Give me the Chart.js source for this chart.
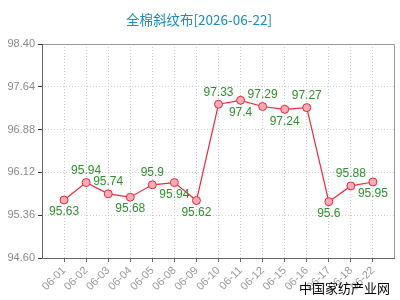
<!DOCTYPE html>
<html>
<head>
<meta charset="utf-8">
<script src="https://cdn.jsdelivr.net/npm/chart.js@4/dist/chart.umd.min.js"></script>
<style>
  html, body { margin: 0; padding: 0; background: #fff; }
  #wrap { width: 400px; height: 300px; }
</style>
</head>
<body>
<div id="wrap"><canvas id="chart"></canvas></div>
<script>
'use strict'

const titleText = "全棉斜纹布[2026-06-22]";
const dates = ["06-01", "06-02", "06-03", "06-04", "06-05", "06-08", "06-09", "06-10",
    "06-11", "06-12", "06-15", "06-16", "06-17", "06-18", "06-22"];
const prices = [95.63, 95.94, 95.74, 95.68, 95.9, 95.94, 95.62, 97.33,
    97.4, 97.29, 97.24, 97.27, 95.6, 95.88, 95.95];
const yTicks = [94.60, 95.36, 96.12, 96.88, 97.64, 98.40];
// 1 = label above the point, -1 = below
const labelSide = [-1, 1, 1, -1, 1, -1, -1, 1, -1, 1, -1, 1, -1, 1, -1];

const extras = {
    id: "extras",
    afterDatasetsDraw(chart) {
        const ctx = chart.ctx;
        const meta = chart.getDatasetMeta(0);
        ctx.save();
        ctx.font = "12px 'Liberation Sans', Arial, sans-serif";
        ctx.fillStyle = "#2f8f2f";
        ctx.textAlign = "center";
        ctx.textBaseline = "middle";
        meta.data.forEach((pt, i) => {
            ctx.fillText(String(prices[i]), pt.x, pt.y - labelSide[i] * 12);
        });
        ctx.restore();
    },
    afterDraw(chart) {
        const ctx = chart.ctx;
        const a = chart.chartArea;
        ctx.save();
        // frame
        ctx.strokeStyle = "#999";
        ctx.lineWidth = 1;
        ctx.beginPath();
        ctx.moveTo(a.left, a.top + 0.5);
        ctx.lineTo(a.right - 0.5, a.top + 0.5);
        ctx.lineTo(a.right - 0.5, a.bottom);
        ctx.stroke();
        ctx.strokeStyle = "#666";
        ctx.beginPath();
        ctx.moveTo(a.left + 0.5, a.top);
        ctx.lineTo(a.left + 0.5, a.bottom + 0.5);
        ctx.lineTo(a.right, a.bottom + 0.5);
        ctx.stroke();
        // title
        ctx.font = "13.5px 'Noto Sans CJK SC', sans-serif";
        ctx.fillStyle = "#1a8bc4";
        ctx.textAlign = "center";
        ctx.textBaseline = "middle";
        ctx.fillText(titleText, 199, 20);
        // watermark
        ctx.font = "13px 'Noto Sans CJK SC', sans-serif";
        ctx.fillStyle = "#000";
        ctx.textAlign = "right";
        ctx.fillText("中国家纺产业网", 390, 288);
        ctx.restore();
    }
};

new Chart(document.getElementById("chart"), {
    type: "line",
    data: {
        datasets: [{
            data: prices.map((v, i) => ({x: i, y: v})),
            borderColor: "#ee2a3e",
            borderWidth: 1.2,
            pointRadius: 4,
            pointBackgroundColor: "#f9adb4",
            pointBorderColor: "#e8283c",
            pointBorderWidth: 1,
            tension: 0
        }]
    },
    options: {
        responsive: true,
        maintainAspectRatio: false,
        animation: false,
        layout: {padding: {top: 44, right: 2, left: 0, bottom: 0}},
        plugins: {legend: {display: false}, tooltip: {enabled: false}},
        scales: {
            x: {
                type: "linear",
                min: -1,
                max: 15,
                afterBuildTicks: (scale) => { scale.ticks = dates.map((d, i) => ({value: i})); },
                afterFit: (scale) => { scale.height = 42; },
                ticks: {
                    autoSkip: false,
                    minRotation: 45,
                    maxRotation: 45,
                    color: "#999",
                    font: {family: "'Liberation Sans', Arial, sans-serif", size: 11},
                    padding: 2,
                    callback: (v) => dates[v] || ""
                },
                grid: {color: "#ccc", tickColor: "#666", tickLength: 4, tickBorderDash: []},
                border: {display: false, dash: [1, 2]}
            },
            y: {
                min: 94.6,
                max: 98.4,
                afterBuildTicks: (scale) => { scale.ticks = yTicks.map(v => ({value: v})); },
                afterFit: (scale) => { scale.width = 42; },
                ticks: {
                    color: "#888",
                    font: {family: "'Liberation Sans', Arial, sans-serif", size: 11},
                    padding: 3,
                    callback: (v) => Number(v).toFixed(2)
                },
                grid: {color: "#ccc", tickColor: "#333", tickLength: 4, tickBorderDash: []},
                border: {display: false, dash: [1, 2]}
            }
        }
    },
    plugins: [extras]
});
</script>
</body>
</html>
